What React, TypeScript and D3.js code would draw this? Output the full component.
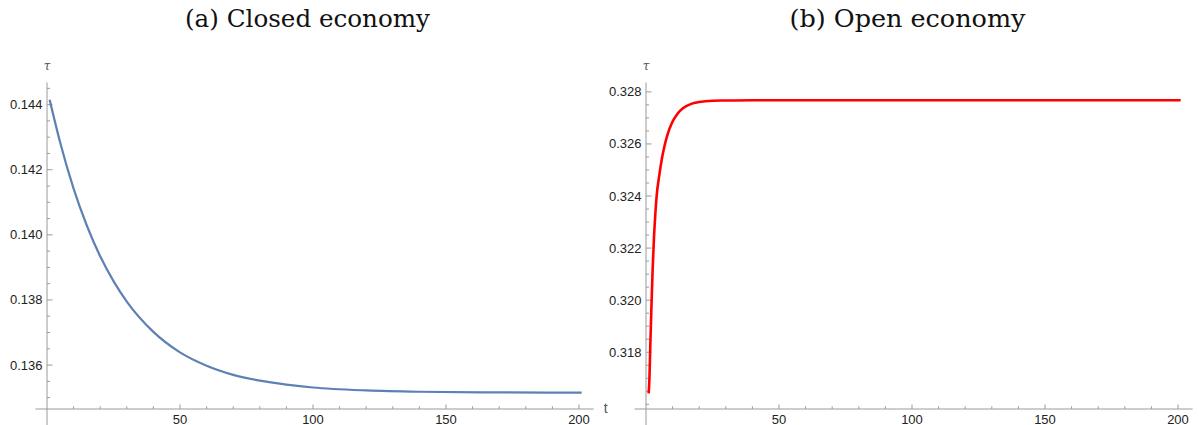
import React from "react";
import * as d3 from "d3";

const closedT = [1, 5, 10, 15, 20, 25, 30, 40, 50, 60, 70, 80, 90, 100, 120, 140, 170, 201];
const closedTau = [0.14415, 0.14282, 0.14142, 0.14028, 0.13934, 0.13858, 0.13795, 0.13702, 0.13639, 0.13598, 0.1357, 0.13552, 0.1354, 0.13531, 0.13522, 0.13518, 0.13516, 0.13515];

const openT = [1, 1.3, 1.6, 2, 2.5, 3, 3.5, 4, 5, 6, 7, 8, 10, 12, 14, 17, 20, 25, 30, 40, 60, 100, 150, 201];
const openTau = [0.31642, 0.317, 0.3182, 0.3196, 0.3212, 0.3224, 0.3233, 0.324, 0.3248, 0.32545, 0.32594, 0.32633, 0.32686, 0.32718, 0.32738, 0.32754, 0.32761, 0.32766, 0.32767, 0.32768, 0.32768, 0.32768, 0.32768, 0.32768];

const closedMajor = [0.136, 0.138, 0.14, 0.142, 0.144];
const openMajor = [0.318, 0.32, 0.322, 0.324, 0.326, 0.328];
const xMajor = [50, 100, 150, 200];

const titles = ["(a) Closed economy", "(b) Open economy"];

type PanelProps = {
  x0: number;
  yDomain: [number, number];
  yMinorFrom: number;
  yMinorTo: number;
  major: number[];
  ts: number[];
  vals: number[];
  color: string;
  width: number;
  title: string;
  titleX: number;
  titleW: number;
};

const AXIS = "#9a9a9a";
const LABEL = "#222";

function Panel(p: PanelProps) {
  const x = d3.scaleLinear().domain([0, 200]).range([p.x0, p.x0 + 532]);
  const y = d3.scaleLinear().domain(p.yDomain).range([409, 82.5]);
  const minor = d3
    .range(Math.round(p.yMinorFrom * 2000), Math.round(p.yMinorTo * 2000) + 1)
    .map((k) => k / 2000);
  const xMinor = d3.range(10, 201, 10);
  const line = d3
    .line<number>()
    .x((_, i) => x(p.ts[i]))
    .y((v) => y(v))
    .curve(d3.curveMonotoneX);
  const ax = x(0);
  const fmt = d3.format(".3f");
  return (
    <g>
      <text
        x={p.titleX}
        y={26.5}
        textAnchor="middle"
        fontFamily="'DejaVu Serif', 'Liberation Serif', serif"
        fontSize={24}
        fill="#111"
        textLength={p.titleW}
        lengthAdjust="spacingAndGlyphs"
      >
        {p.title}
      </text>
      <line x1={ax - 11.5} x2={x(205.5)} y1={409} y2={409} stroke={AXIS} strokeWidth={1} />
      <line x1={ax} x2={ax} y1={82.5} y2={430} stroke={AXIS} strokeWidth={1} />
      {minor.map((v) => {
        const isMajor = p.major.some((m) => Math.abs(m - v) < 1e-7);
        return (
          <line key={"ym" + v} x1={ax} x2={ax + (isMajor ? 5.5 : 3)} y1={y(v)} y2={y(v)} stroke={AXIS} strokeWidth={1} />
        );
      })}
      {xMinor.map((t) => {
        const isMajor = xMajor.includes(t);
        return (
          <line key={"xm" + t} x1={x(t)} x2={x(t)} y1={409} y2={409 - (isMajor ? 4.5 : 2.7)} stroke={AXIS} strokeWidth={1} />
        );
      })}
      {p.major.map((v) => (
        <text key={"yl" + v} x={ax - 4.5} y={y(v)} dy="0.35em" textAnchor="end" fontFamily="'Liberation Sans', Arial, sans-serif" fontSize={13} fill={LABEL}>
          {fmt(v)}
        </text>
      ))}
      {xMajor.map((t) => (
        <text key={"xl" + t} x={x(t)} y={424} textAnchor="middle" fontFamily="'Liberation Sans', Arial, sans-serif" fontSize={13} fill={LABEL}>
          {t}
        </text>
      ))}
      <text x={ax} y={70} textAnchor="middle" fontFamily="'DejaVu Serif', serif" fontStyle="italic" fontSize={12} fill="#555">
        τ
      </text>
      <text x={x(205.5) + 12} y={413} textAnchor="middle" fontFamily="'Liberation Sans', Arial, sans-serif" fontSize={14} fill="#555">
        t
      </text>
      <path d={line(p.vals) || ""} fill="none" stroke={p.color} strokeWidth={p.width} strokeLinejoin="round" />
    </g>
  );
}

export default function App() {
  return (
    <div style={{ position: "fixed", left: 0, top: 0 }}>
      <svg width={1199} height={425} style={{ display: "block", background: "#fff" }}>
        <Panel
          x0={47}
          yDomain={[0.13465, 0.14468]}
          yMinorFrom={0.135}
          yMinorTo={0.1445}
          major={closedMajor}
          ts={closedT}
          vals={closedTau}
          color="#5e81b5"
          width={2.2}
          title={titles[0]}
          titleX={307.5}
          titleW={245}
        />
        <Panel
          x0={646}
          yDomain={[0.31582, 0.32836]}
          yMinorFrom={0.316}
          yMinorTo={0.328}
          major={openMajor}
          ts={openT}
          vals={openTau}
          color="#ff0000"
          width={2.6}
          title={titles[1]}
          titleX={907.5}
          titleW={236}
        />
      </svg>
    </div>
  );
}
